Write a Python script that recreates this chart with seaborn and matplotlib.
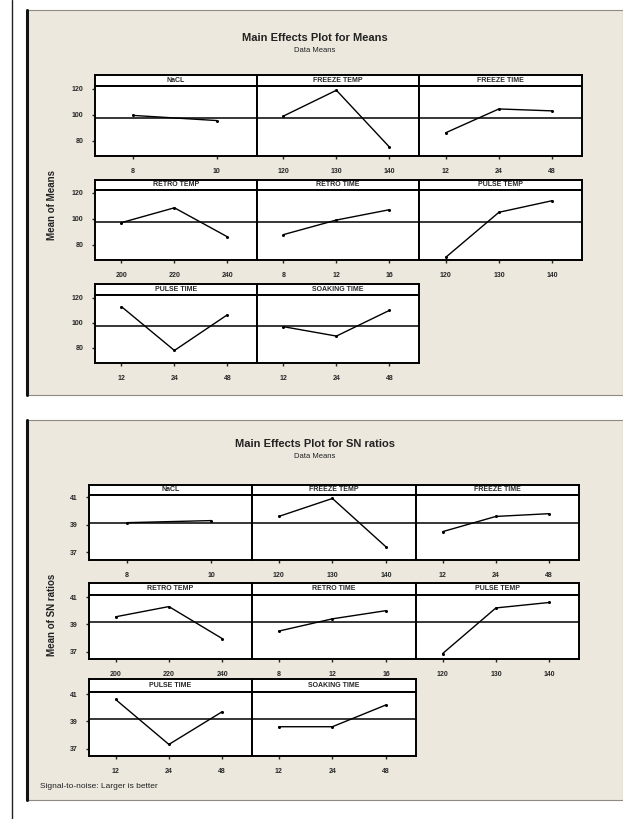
import matplotlib
matplotlib.use("Agg")
import matplotlib.pyplot as plt
import seaborn as sns
import pandas as pd
from matplotlib.patches import Rectangle
from matplotlib.lines import Line2D

sns.set_theme(style="white")
plt.rcParams["font.family"] = ["Liberation Sans", "DejaVu Sans"]

# ---- data -------------------------------------------------------------
factors = ["NaCL", "FREEZE TEMP", "FREEZE TIME", "RETRO TEMP", "RETRO TIME",
           "PULSE TEMP", "PULSE TIME", "SOAKING TIME"]
levels = [["8", "10"], ["120", "130", "140"], ["12", "24", "48"],
          ["200", "220", "240"], ["8", "12", "16"], ["120", "130", "140"],
          ["12", "24", "48"], ["12", "24", "48"]]
means = [[99.5, 95.5], [99.0, 119.0, 75.0], [86.0, 104.5, 103.0],
         [97.0, 108.5, 86.0], [87.7, 99.0, 107.0], [70.0, 105.0, 114.0],
         [113.0, 78.0, 106.5], [97.0, 89.5, 110.0]]
sn_ratios = [[39.15, 39.30], [39.60, 40.90, 37.40], [38.50, 39.60, 39.80],
             [39.55, 40.30, 37.95], [38.50, 39.40, 40.00], [36.85, 40.20, 40.60],
             [40.60, 37.30, 39.70], [38.60, 38.60, 40.20]]
grand_mean_means = 97.5
grand_mean_sn = 39.15
means_ticks = [80, 100, 120]
sn_ticks = [37, 39, 41]

W, H = 623, 819
BEIGE = "#ECE8DE"

fig = plt.figure(figsize=(W / 100, H / 100), dpi=100)
fig.patch.set_facecolor("white")


def add_ax(x0, y0, x1, y1):
    return fig.add_axes([x0 / W, 1 - y1 / H, (x1 - x0) / W, (y1 - y0) / H])


def frame(y0, y1):
    fig.add_artist(Rectangle((27 / W, 1 - y1 / H), (W - 27) / W, (y1 - y0) / H,
                             transform=fig.transFigure, facecolor=BEIGE,
                             edgecolor="#8f8b82", linewidth=0.8, zorder=-2))
    fig.add_artist(Line2D([27 / W, 27 / W], [1 - y1 / H, 1 - y0 / H],
                          transform=fig.transFigure, color="#111111",
                          linewidth=2.2, zorder=-1))


def main_effects(values, grand, ticks, ylim, cols, rows, title, title_y, ylabel, ylabel_y):
    fig.text(315 / W, 1 - title_y / H, title, ha="center", va="center",
             fontsize=8, fontweight="bold", color="#222222")
    fig.text(315 / W, 1 - (title_y + 13) / H, "Data Means", ha="center",
             va="center", fontsize=5.5, color="#222222")
    fig.text(52 / W, 1 - ylabel_y / H, ylabel, rotation=90, ha="center",
             va="center", fontsize=7, fontweight="bold", color="#222222")
    for i, name in enumerate(factors):
        r, c = divmod(i, 3)
        x0, x1 = cols[c]
        s0, s1, p1 = rows[r]
        # strip header with the factor name
        sax = add_ax(x0, s0, x1, s1)
        sax.set_facecolor("white")
        sax.set_xticks([])
        sax.set_yticks([])
        for sp in sax.spines.values():
            sp.set_linewidth(1.4)
            sp.set_color("black")
        sax.text(0.5, 0.5, name, ha="center", va="center", fontsize=5,
                 fontweight="bold", transform=sax.transAxes)
        # panel with the level means
        ax = add_ax(x0, s1, x1, p1)
        ax.set_facecolor("white")
        n = len(levels[i])
        df = pd.DataFrame({"pos": list(range(n)), "value": values[i]})
        ax.axhline(grand, color="black", linewidth=1.1, zorder=1)
        sns.lineplot(data=df, x="pos", y="value", ax=ax, color="black",
                     linewidth=1.0, marker="o", markersize=2.2,
                     markeredgewidth=0, zorder=3)
        if n == 2:
            ax.set_xlim(-0.45, 1.48)
        else:
            ax.set_xlim(-0.5, 2.56)
        ax.set_ylim(*ylim)
        ax.set_xticks(range(n))
        ax.set_xticklabels(levels[i], fontsize=5, fontweight="bold")
        ax.set_xlabel("")
        ax.set_ylabel("")
        if c == 0:
            ax.set_yticks(ticks)
            ax.set_yticklabels([str(t) for t in ticks], fontsize=5, fontweight="bold")
            ax.tick_params(axis="y", direction="out", length=2.5, width=1, pad=6)
        else:
            ax.set_yticks([])
        ax.tick_params(axis="x", direction="out", length=2.5, width=1, pad=6)
        ax.tick_params(left=(c == 0), bottom=True)
        for sp in ax.spines.values():
            sp.set_linewidth(1.4)
            sp.set_color("black")


# page edge
fig.add_artist(Line2D([12 / W, 12 / W], [0, 1], transform=fig.transFigure,
                      color="#222222", linewidth=1.0))

# top chart: means
frame(10, 395)
main_effects(means, grand_mean_means, means_ticks, (68, 122.3),
             [(95, 257), (257, 419), (419, 582)],
             [(75, 86, 156), (180, 190, 260), (284, 295, 363)],
             "Main Effects Plot for Means", 38, "Mean of Means", 205)

# bottom chart: signal-to-noise ratios
frame(420, 800)
main_effects(sn_ratios, grand_mean_sn, sn_ticks, (36.45, 41.15),
             [(89, 252), (252, 416), (416, 579)],
             [(485, 495, 560), (583, 595, 659), (679, 692, 756)],
             "Main Effects Plot for SN ratios", 444, "Mean of SN ratios", 615)
fig.text(40 / W, 1 - 786 / H, "Signal-to-noise: Larger is better", ha="left",
         va="center", fontsize=6, color="#222222")

fig.savefig("out.png", dpi=100)
